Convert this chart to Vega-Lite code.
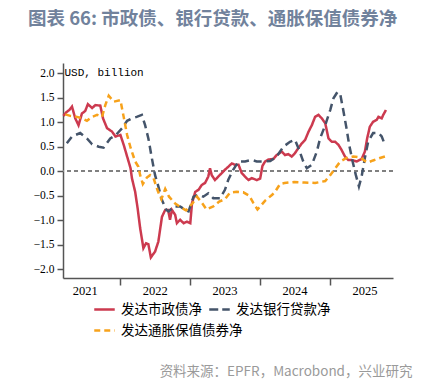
{
  "$schema": "https://vega.github.io/schema/vega-lite/v6.json",
  "width": 330,
  "height": 215,
  "autosize": {"type": "none"},
  "padding": {"left": 63, "top": 63, "right": 43, "bottom": 106},
  "background": "white",
  "title": {
    "text": "图表 66: 市政债、银行贷款、通胀保值债券净",
    "anchor": "start",
    "frame": "group",
    "dx": -35,
    "offset": 35,
    "font": "Noto Sans CJK SC",
    "fontSize": 18.5,
    "fontWeight": "bold",
    "color": "#71829C"
  },
  "config": {
    "view": {"stroke": null},
    "axis": {"grid": false, "domainColor": "#555555", "tickColor": "#555555", "domainWidth": 1.5, "tickWidth": 1.5, "labelColor": "#000000"},
    "axisY": {"labelOverlap": false, "labelFont": "Liberation Serif", "labelFontSize": 11.5, "tickSize": 6, "labelPadding": 3}
  },
  "data": {"values": [
    {"d": "2021-03-12", "s": "发达市政债净", "v": 1.13},
    {"d": "2021-03-26", "s": "发达市政债净", "v": 1.20},
    {"d": "2021-04-12", "s": "发达市政债净", "v": 1.25},
    {"d": "2021-04-26", "s": "发达市政债净", "v": 1.32},
    {"d": "2021-05-13", "s": "发达市政债净", "v": 1.08},
    {"d": "2021-05-30", "s": "发达市政债净", "v": 0.94},
    {"d": "2021-06-17", "s": "发达市政债净", "v": 1.18},
    {"d": "2021-07-04", "s": "发达市政债净", "v": 1.23},
    {"d": "2021-07-18", "s": "发达市政债净", "v": 1.37},
    {"d": "2021-08-09", "s": "发达市政债净", "v": 1.29},
    {"d": "2021-08-26", "s": "发达市政债净", "v": 1.35},
    {"d": "2021-09-21", "s": "发达市政债净", "v": 1.34},
    {"d": "2021-10-05", "s": "发达市政债净", "v": 1.08},
    {"d": "2021-10-26", "s": "发达市政债净", "v": 0.88},
    {"d": "2021-11-21", "s": "发达市政债净", "v": 0.81},
    {"d": "2021-12-09", "s": "发达市政债净", "v": 0.71},
    {"d": "2022-01-04", "s": "发达市政债净", "v": 0.74},
    {"d": "2022-01-21", "s": "发达市政债净", "v": 0.54},
    {"d": "2022-02-08", "s": "发达市政债净", "v": 0.30},
    {"d": "2022-02-26", "s": "发达市政债净", "v": 0.06},
    {"d": "2022-03-05", "s": "发达市政债净", "v": -0.14},
    {"d": "2022-03-22", "s": "发达市政债净", "v": -0.42},
    {"d": "2022-04-04", "s": "发达市政债净", "v": -0.76},
    {"d": "2022-04-17", "s": "发达市政债净", "v": -1.16},
    {"d": "2022-05-04", "s": "发达市政债净", "v": -1.57},
    {"d": "2022-05-18", "s": "发达市政债净", "v": -1.47},
    {"d": "2022-05-30", "s": "发达市政债净", "v": -1.49},
    {"d": "2022-06-12", "s": "发达市政债净", "v": -1.76},
    {"d": "2022-07-04", "s": "发达市政债净", "v": -1.64},
    {"d": "2022-07-21", "s": "发达市政债净", "v": -1.44},
    {"d": "2022-08-09", "s": "发达市政债净", "v": -0.93},
    {"d": "2022-08-26", "s": "发达市政债净", "v": -0.79},
    {"d": "2022-09-10", "s": "发达市政债净", "v": -0.79},
    {"d": "2022-09-20", "s": "发达市政债净", "v": -0.99},
    {"d": "2022-09-30", "s": "发达市政债净", "v": -0.79},
    {"d": "2022-10-17", "s": "发达市政债净", "v": -0.89},
    {"d": "2022-10-26", "s": "发达市政债净", "v": -1.06},
    {"d": "2022-11-12", "s": "发达市政债净", "v": -0.99},
    {"d": "2022-11-30", "s": "发达市政债净", "v": -1.06},
    {"d": "2022-12-17", "s": "发达市政债净", "v": -1.03},
    {"d": "2023-01-04", "s": "发达市政债净", "v": -1.06},
    {"d": "2023-01-13", "s": "发达市政债净", "v": -0.65},
    {"d": "2023-01-30", "s": "发达市政债净", "v": -0.42},
    {"d": "2023-02-16", "s": "发达市政债净", "v": -0.38},
    {"d": "2023-03-05", "s": "发达市政债净", "v": -0.28},
    {"d": "2023-03-22", "s": "发达市政债净", "v": -0.24},
    {"d": "2023-04-08", "s": "发达市政债净", "v": -0.11},
    {"d": "2023-04-17", "s": "发达市政债净", "v": 0.06},
    {"d": "2023-04-26", "s": "发达市政债净", "v": -0.08},
    {"d": "2023-05-13", "s": "发达市政债净", "v": -0.18},
    {"d": "2023-05-30", "s": "发达市政债净", "v": -0.11},
    {"d": "2023-06-17", "s": "发达市政债净", "v": -0.04},
    {"d": "2023-07-04", "s": "发达市政债净", "v": 0.03},
    {"d": "2023-07-21", "s": "发达市政债净", "v": 0.09},
    {"d": "2023-08-09", "s": "发达市政债净", "v": 0.16},
    {"d": "2023-08-26", "s": "发达市政债净", "v": 0.13},
    {"d": "2023-09-13", "s": "发达市政债净", "v": 0.13},
    {"d": "2023-09-30", "s": "发达市政债净", "v": -0.04},
    {"d": "2023-10-17", "s": "发达市政债净", "v": -0.11},
    {"d": "2023-11-04", "s": "发达市政债净", "v": -0.18},
    {"d": "2023-11-21", "s": "发达市政债净", "v": -0.14},
    {"d": "2023-12-17", "s": "发达市政债净", "v": -0.18},
    {"d": "2024-01-04", "s": "发达市政债净", "v": -0.15},
    {"d": "2024-01-16", "s": "发达市政债净", "v": 0.11},
    {"d": "2024-01-30", "s": "发达市政债净", "v": 0.20},
    {"d": "2024-02-16", "s": "发达市政债净", "v": 0.24},
    {"d": "2024-03-13", "s": "发达市政债净", "v": 0.25},
    {"d": "2024-03-30", "s": "发达市政债净", "v": 0.33},
    {"d": "2024-04-26", "s": "发达市政债净", "v": 0.40},
    {"d": "2024-05-13", "s": "发达市政债净", "v": 0.33},
    {"d": "2024-05-30", "s": "发达市政债净", "v": 0.35},
    {"d": "2024-06-17", "s": "发达市政债净", "v": 0.30},
    {"d": "2024-07-04", "s": "发达市政债净", "v": 0.37},
    {"d": "2024-07-21", "s": "发达市政债净", "v": 0.47},
    {"d": "2024-08-09", "s": "发达市政债净", "v": 0.57},
    {"d": "2024-08-26", "s": "发达市政债净", "v": 0.64},
    {"d": "2024-09-13", "s": "发达市政债净", "v": 0.81},
    {"d": "2024-09-30", "s": "发达市政债净", "v": 0.94},
    {"d": "2024-10-17", "s": "发达市政债净", "v": 1.11},
    {"d": "2024-11-04", "s": "发达市政债净", "v": 1.15},
    {"d": "2024-11-21", "s": "发达市政债净", "v": 1.08},
    {"d": "2024-12-09", "s": "发达市政债净", "v": 0.98},
    {"d": "2024-12-26", "s": "发达市政债净", "v": 0.67},
    {"d": "2025-01-13", "s": "发达市政债净", "v": 0.60},
    {"d": "2025-01-30", "s": "发达市政债净", "v": 0.60},
    {"d": "2025-02-16", "s": "发达市政债净", "v": 0.54},
    {"d": "2025-03-05", "s": "发达市政债净", "v": 0.43},
    {"d": "2025-03-22", "s": "发达市政债净", "v": 0.30},
    {"d": "2025-04-08", "s": "发达市政债净", "v": 0.23},
    {"d": "2025-04-26", "s": "发达市政债净", "v": 0.23},
    {"d": "2025-05-22", "s": "发达市政债净", "v": 0.20},
    {"d": "2025-06-17", "s": "发达市政债净", "v": 0.25},
    {"d": "2025-07-04", "s": "发达市政债净", "v": 0.40},
    {"d": "2025-07-16", "s": "发达市政债净", "v": 0.67},
    {"d": "2025-07-30", "s": "发达市政债净", "v": 0.91},
    {"d": "2025-08-16", "s": "发达市政债净", "v": 1.01},
    {"d": "2025-09-04", "s": "发达市政债净", "v": 1.05},
    {"d": "2025-09-13", "s": "发达市政债净", "v": 1.11},
    {"d": "2025-09-30", "s": "发达市政债净", "v": 1.08},
    {"d": "2025-10-08", "s": "发达市政债净", "v": 1.15},
    {"d": "2025-10-22", "s": "发达市政债净", "v": 1.25},

    {"d": "2021-03-30", "s": "发达银行贷款净", "v": 0.57},
    {"d": "2021-04-26", "s": "发达银行贷款净", "v": 0.71},
    {"d": "2021-06-08", "s": "发达银行贷款净", "v": 0.78},
    {"d": "2021-07-13", "s": "发达银行贷款净", "v": 0.67},
    {"d": "2021-08-09", "s": "发达银行贷款净", "v": 0.55},
    {"d": "2021-09-13", "s": "发达银行贷款净", "v": 0.50},
    {"d": "2021-10-08", "s": "发达银行贷款净", "v": 0.48},
    {"d": "2021-11-12", "s": "发达银行贷款净", "v": 0.67},
    {"d": "2021-12-09", "s": "发达银行贷款净", "v": 0.73},
    {"d": "2022-01-13", "s": "发达银行贷款净", "v": 0.88},
    {"d": "2022-02-08", "s": "发达银行贷款净", "v": 1.03},
    {"d": "2022-03-05", "s": "发达银行贷款净", "v": 1.08},
    {"d": "2022-03-30", "s": "发达银行贷款净", "v": 1.11},
    {"d": "2022-04-26", "s": "发达银行贷款净", "v": 1.15},
    {"d": "2022-05-13", "s": "发达银行贷款净", "v": 0.94},
    {"d": "2022-05-30", "s": "发达银行贷款净", "v": 0.67},
    {"d": "2022-06-17", "s": "发达银行贷款净", "v": 0.27},
    {"d": "2022-07-04", "s": "发达银行贷款净", "v": -0.08},
    {"d": "2022-07-21", "s": "发达银行贷款净", "v": -0.31},
    {"d": "2022-08-09", "s": "发达银行贷款净", "v": -0.59},
    {"d": "2022-09-01", "s": "发达银行贷款净", "v": -0.79},
    {"d": "2022-09-13", "s": "发达银行贷款净", "v": -0.82},
    {"d": "2022-10-10", "s": "发达银行贷款净", "v": -0.72},
    {"d": "2022-11-12", "s": "发达银行贷款净", "v": -0.72},
    {"d": "2022-12-09", "s": "发达银行贷款净", "v": -0.79},
    {"d": "2022-12-26", "s": "发达银行贷款净", "v": -0.82},
    {"d": "2023-01-21", "s": "发达银行贷款净", "v": -0.52},
    {"d": "2023-02-16", "s": "发达银行贷款净", "v": -0.48},
    {"d": "2023-03-13", "s": "发达银行贷款净", "v": -0.52},
    {"d": "2023-04-08", "s": "发达银行贷款净", "v": -0.45},
    {"d": "2023-05-04", "s": "发达银行贷款净", "v": -0.55},
    {"d": "2023-06-08", "s": "发达银行贷款净", "v": -0.55},
    {"d": "2023-07-04", "s": "发达银行贷款净", "v": -0.38},
    {"d": "2023-07-21", "s": "发达银行贷款净", "v": -0.18},
    {"d": "2023-08-16", "s": "发达银行贷款净", "v": 0.03},
    {"d": "2023-09-13", "s": "发达银行贷款净", "v": 0.20},
    {"d": "2023-10-17", "s": "发达银行贷款净", "v": 0.20},
    {"d": "2023-11-21", "s": "发达银行贷款净", "v": 0.23},
    {"d": "2023-12-17", "s": "发达银行贷款净", "v": 0.20},
    {"d": "2024-01-13", "s": "发达银行贷款净", "v": 0.20},
    {"d": "2024-02-26", "s": "发达银行贷款净", "v": 0.21},
    {"d": "2024-03-30", "s": "发达银行贷款净", "v": 0.30},
    {"d": "2024-05-04", "s": "发达银行贷款净", "v": 0.50},
    {"d": "2024-06-08", "s": "发达银行贷款净", "v": 0.60},
    {"d": "2024-07-04", "s": "发达银行贷款净", "v": 0.64},
    {"d": "2024-07-26", "s": "发达银行贷款净", "v": 0.43},
    {"d": "2024-08-16", "s": "发达银行贷款净", "v": 0.20},
    {"d": "2024-09-04", "s": "发达银行贷款净", "v": 0.06},
    {"d": "2024-09-30", "s": "发达银行贷款净", "v": 0.13},
    {"d": "2024-10-26", "s": "发达银行贷款净", "v": 0.40},
    {"d": "2024-11-12", "s": "发达银行贷款净", "v": 0.67},
    {"d": "2024-12-09", "s": "发达银行贷款净", "v": 0.94},
    {"d": "2025-01-04", "s": "发达银行贷款净", "v": 1.25},
    {"d": "2025-01-21", "s": "发达银行贷款净", "v": 1.49},
    {"d": "2025-02-11", "s": "发达银行贷款净", "v": 1.62},
    {"d": "2025-02-26", "s": "发达银行贷款净", "v": 1.56},
    {"d": "2025-03-13", "s": "发达银行贷款净", "v": 1.25},
    {"d": "2025-03-30", "s": "发达银行贷款净", "v": 0.88},
    {"d": "2025-04-13", "s": "发达银行贷款净", "v": 0.54},
    {"d": "2025-05-01", "s": "发达银行贷款净", "v": 0.20},
    {"d": "2025-05-18", "s": "发达银行贷款净", "v": -0.08},
    {"d": "2025-06-03", "s": "发达银行贷款净", "v": -0.31},
    {"d": "2025-06-17", "s": "发达银行贷款净", "v": -0.11},
    {"d": "2025-07-04", "s": "发达银行贷款净", "v": 0.27},
    {"d": "2025-07-21", "s": "发达银行贷款净", "v": 0.60},
    {"d": "2025-08-16", "s": "发达银行贷款净", "v": 0.78},
    {"d": "2025-09-13", "s": "发达银行贷款净", "v": 0.78},
    {"d": "2025-09-30", "s": "发达银行贷款净", "v": 0.71},
    {"d": "2025-10-17", "s": "发达银行贷款净", "v": 0.54},

    {"d": "2021-03-22", "s": "发达通胀保值债券净", "v": 1.16},
    {"d": "2021-04-17", "s": "发达通胀保值债券净", "v": 1.13},
    {"d": "2021-05-22", "s": "发达通胀保值债券净", "v": 1.11},
    {"d": "2021-06-17", "s": "发达通胀保值债券净", "v": 1.08},
    {"d": "2021-07-13", "s": "发达通胀保值债券净", "v": 1.03},
    {"d": "2021-08-09", "s": "发达通胀保值债券净", "v": 1.11},
    {"d": "2021-09-04", "s": "发达通胀保值债券净", "v": 1.15},
    {"d": "2021-09-30", "s": "发达通胀保值债券净", "v": 1.11},
    {"d": "2021-10-17", "s": "发达通胀保值债券净", "v": 1.35},
    {"d": "2021-11-04", "s": "发达通胀保值债券净", "v": 1.54},
    {"d": "2021-11-30", "s": "发达通胀保值债券净", "v": 1.42},
    {"d": "2022-01-04", "s": "发达通胀保值债券净", "v": 1.45},
    {"d": "2022-01-21", "s": "发达通胀保值债券净", "v": 1.11},
    {"d": "2022-02-08", "s": "发达通胀保值债券净", "v": 0.74},
    {"d": "2022-02-26", "s": "发达通胀保值债券净", "v": 0.48},
    {"d": "2022-03-22", "s": "发达通胀保值债券净", "v": 0.20},
    {"d": "2022-04-08", "s": "发达通胀保值债券净", "v": 0.09},
    {"d": "2022-04-17", "s": "发达通胀保值债券净", "v": -0.08},
    {"d": "2022-05-01", "s": "发达通胀保值债券净", "v": -0.26},
    {"d": "2022-05-22", "s": "发达通胀保值债券净", "v": -0.13},
    {"d": "2022-06-08", "s": "发达通胀保值债券净", "v": -0.08},
    {"d": "2022-06-26", "s": "发达通胀保值债券净", "v": -0.14},
    {"d": "2022-07-18", "s": "发达通胀保值债券净", "v": -0.40},
    {"d": "2022-08-06", "s": "发达通胀保值债券净", "v": -0.57},
    {"d": "2022-08-26", "s": "发达通胀保值债券净", "v": -0.36},
    {"d": "2022-09-15", "s": "发达通胀保值债券净", "v": -0.52},
    {"d": "2022-10-17", "s": "发达通胀保值债券净", "v": -0.66},
    {"d": "2022-11-09", "s": "发达通胀保值债券净", "v": -0.72},
    {"d": "2022-12-13", "s": "发达通胀保值债券净", "v": -0.80},
    {"d": "2023-01-17", "s": "发达通胀保值债券净", "v": -0.65},
    {"d": "2023-02-08", "s": "发达通胀保值债券净", "v": -0.52},
    {"d": "2023-03-05", "s": "发达通胀保值债券净", "v": -0.64},
    {"d": "2023-03-30", "s": "发达通胀保值债券净", "v": -0.78},
    {"d": "2023-05-04", "s": "发达通胀保值债券净", "v": -0.72},
    {"d": "2023-06-04", "s": "发达通胀保值债券净", "v": -0.62},
    {"d": "2023-07-04", "s": "发达通胀保值债券净", "v": -0.57},
    {"d": "2023-07-30", "s": "发达通胀保值债券净", "v": -0.44},
    {"d": "2023-09-04", "s": "发达通胀保值债券净", "v": -0.42},
    {"d": "2023-10-08", "s": "发达通胀保值债券净", "v": -0.43},
    {"d": "2023-11-08", "s": "发达通胀保值债券净", "v": -0.50},
    {"d": "2023-11-30", "s": "发达通胀保值债券净", "v": -0.65},
    {"d": "2023-12-21", "s": "发达通胀保值债券净", "v": -0.78},
    {"d": "2024-01-04", "s": "发达通胀保值债券净", "v": -0.72},
    {"d": "2024-01-30", "s": "发达通胀保值债券净", "v": -0.60},
    {"d": "2024-03-07", "s": "发达通胀保值债券净", "v": -0.48},
    {"d": "2024-03-22", "s": "发达通胀保值债券净", "v": -0.42},
    {"d": "2024-04-17", "s": "发达通胀保值债券净", "v": -0.26},
    {"d": "2024-05-10", "s": "发达通胀保值债券净", "v": -0.24},
    {"d": "2024-06-30", "s": "发达通胀保值债券净", "v": -0.22},
    {"d": "2024-08-22", "s": "发达通胀保值债券净", "v": -0.23},
    {"d": "2024-10-17", "s": "发达通胀保值债券净", "v": -0.24},
    {"d": "2024-12-09", "s": "发达通胀保值债券净", "v": -0.20},
    {"d": "2025-01-04", "s": "发达通胀保值债券净", "v": -0.08},
    {"d": "2025-01-30", "s": "发达通胀保值债券净", "v": 0.06},
    {"d": "2025-02-26", "s": "发达通胀保值债券净", "v": 0.20},
    {"d": "2025-03-30", "s": "发达通胀保值债券净", "v": 0.27},
    {"d": "2025-05-04", "s": "发达通胀保值债券净", "v": 0.30},
    {"d": "2025-06-12", "s": "发达通胀保值债券净", "v": 0.28},
    {"d": "2025-07-04", "s": "发达通胀保值债券净", "v": 0.21},
    {"d": "2025-07-21", "s": "发达通胀保值债券净", "v": 0.18},
    {"d": "2025-08-16", "s": "发达通胀保值债券净", "v": 0.22},
    {"d": "2025-09-21", "s": "发达通胀保值债券净", "v": 0.27},
    {"d": "2025-10-17", "s": "发达通胀保值债券净", "v": 0.30}
  ]},
  "layer": [
    {
      "mark": {"type": "rule", "strokeDash": [4, 3], "color": "#808080", "strokeWidth": 1.3},
      "encoding": {"y": {"datum": 0, "type": "quantitative", "axis": {
            "values": [-2, -1.5, -1, -0.5, 0, 0.5, 1, 1.5, 2],
            "format": ".1f",
            "labelOverlap": false,
            "title": "USD, billion",
            "titleFont": "Liberation Mono",
            "titleFontSize": 11,
            "titleFontWeight": "normal",
            "titleColor": "#000000",
            "titleAngle": 0,
            "titleAlign": "left",
            "titleBaseline": "middle",
            "titleAnchor": null,
            "titleX": 1,
            "titleY": 9
          }}}
    },
    {
      "mark": {"type": "line", "strokeWidth": 2.5, "interpolate": "linear"},
      "encoding": {
        "x": {
          "field": "d", "type": "temporal",
          "scale": {"type": "utc", "domain": [{"year": 2021, "month": 3, "date": 10, "utc": true}, {"year": 2025, "month": 11, "date": 28, "utc": true}]},
          "axis": {
            "title": "资料来源：EPFR，Macrobond，兴业研究",
            "titleFont": "Noto Sans CJK SC",
            "titleFontSize": 13.5,
            "titleFontWeight": "normal",
            "titleColor": "#9A9A9A",
            "titleAlign": "right",
            "titleAnchor": null,
            "titleX": 349,
            "titleY": 97,
            "titleBaseline": "alphabetic",
            "values": [
              {"year": 2021, "month": 7, "date": 2, "utc": true},
              {"year": 2022, "month": 1, "date": 1, "utc": true},
              {"year": 2022, "month": 7, "date": 2, "utc": true},
              {"year": 2023, "month": 1, "date": 1, "utc": true},
              {"year": 2023, "month": 7, "date": 2, "utc": true},
              {"year": 2024, "month": 1, "date": 1, "utc": true},
              {"year": 2024, "month": 7, "date": 2, "utc": true},
              {"year": 2025, "month": 1, "date": 1, "utc": true},
              {"year": 2025, "month": 7, "date": 2, "utc": true}
            ],
            "labelExpr": "utcmonth(datum.value) == 6 ? utcFormat(datum.value, '%Y') : ''",
            "tickOpacity": {"condition": {"test": "utcmonth(datum.value) == 0", "value": 1}, "value": 0},
            "tickSize": 7,
            "labelFont": "Liberation Serif",
            "labelFontSize": 12.5,
            "labelPadding": -1,
            "labelFlush": false,
            "labelOverlap": false
          }
        },
        "y": {
          "field": "v", "type": "quantitative",
          "scale": {"domain": [-2.18, 2.21], "nice": false, "zero": false},
          "axis": {
            "values": [-2, -1.5, -1, -0.5, 0, 0.5, 1, 1.5, 2],
            "format": ".1f",
            "labelOverlap": false,
            "title": "USD, billion",
            "titleFont": "Liberation Mono",
            "titleFontSize": 11,
            "titleFontWeight": "normal",
            "titleColor": "#000000",
            "titleAngle": 0,
            "titleAlign": "left",
            "titleBaseline": "middle",
            "titleAnchor": null,
            "titleX": 1,
            "titleY": 9
          }
        },
        "color": {
          "field": "s", "type": "nominal",
          "scale": {"domain": ["发达市政债净", "发达银行贷款净", "发达通胀保值债券净"], "range": ["#CC3A4F", "#44546A", "#F7A21B"]},
          "legend": {
            "title": null, "orient": "none", "legendX": 30, "legendY": 235,
            "values": ["发达市政债净", "发达银行贷款净"],
            "direction": "horizontal", "columnPadding": 2,
            "labelFont": "Noto Sans CJK SC", "labelFontSize": 13.5, "labelColor": "#000000",
            "symbolType": "stroke", "symbolSize": 420, "symbolStrokeWidth": 2.5, "labelOffset": 5,
            "encode": {"symbols": {"update": {"strokeDash": {"signal": "datum.value == '发达银行贷款净' ? [9, 4] : [1, 0]"}}}}
          }
        },
        "strokeDash": {
          "field": "s", "type": "nominal",
          "scale": {"domain": ["发达通胀保值债券净", "发达市政债净", "发达银行贷款净"], "range": [[6, 4], [1, 0], [8, 5]]},
          "legend": {
            "title": null, "orient": "none", "legendX": 30, "legendY": 256,
            "values": ["发达通胀保值债券净"],
            "direction": "horizontal",
            "labelFont": "Noto Sans CJK SC", "labelFontSize": 13.5, "labelColor": "#000000",
            "symbolType": "stroke", "symbolSize": 420, "symbolStrokeWidth": 2.5, "labelOffset": 5,
            "symbolStrokeColor": "#F7A21B"
          }
        }
      }
    }
  ]
}
